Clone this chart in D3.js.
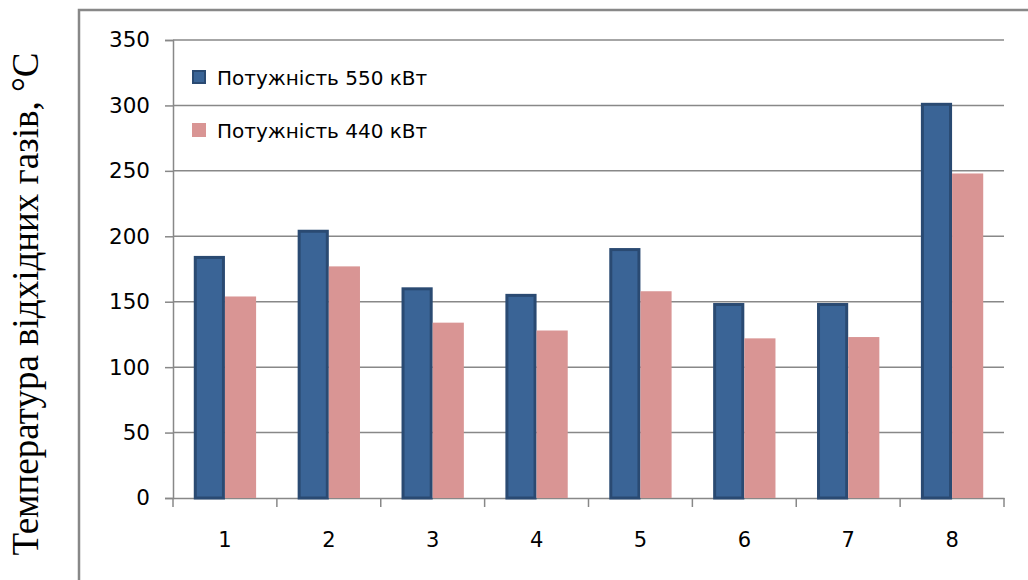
<!DOCTYPE html>
<html>
<head>
<meta charset="utf-8">
<title>Температура відхідних газів</title>
<script src="https://cdn.jsdelivr.net/npm/d3@7/dist/d3.min.js"></script>
<style>
  body { margin: 0; background: #fff; }
  svg text { font-family: "DejaVu Sans", sans-serif; }
</style>
</head>
<body>
<svg id="chart" width="1028" height="580"></svg>
<script>
// categories and series
const categories = ['1', '2', '3', '4', '5', '6', '7', '8'];
const power550 = [185, 205, 161, 156, 191, 149, 149, 302];
const power440 = [154, 177, 134, 128, 158, 122, 123, 248];
const seriesNames = ['Потужність 550 кВт', 'Потужність 440 кВт'];
const yTicks = [0, 50, 100, 150, 200, 250, 300, 350];

const svg = d3.select('#chart');
const margin = { top: 40, right: 24, bottom: 82, left: 173 };
const width = 1028, height = 580;

// outer frame (right edge is cut off in the original)
svg.append('rect')
    .attr('x', 79).attr('y', 10)
    .attr('width', 980).attr('height', 600)
    .attr('fill', 'none').attr('stroke', '#888').attr('stroke-width', 2.5);

const x = d3.scaleBand()
    .domain(categories)
    .range([margin.left, width - margin.right])
    .paddingInner(0.4).paddingOuter(0.2);
const sub = d3.scaleBand().domain([0, 1]).range([0, x.bandwidth()]);
const y = d3.scaleLinear().domain([0, 350]).range([height - margin.bottom, margin.top]);

// grid + y axis
const yAxis = svg.append('g')
    .attr('transform', `translate(${margin.left},0)`)
    .call(d3.axisLeft(y).tickValues(yTicks).tickSize(8).tickPadding(15));
yAxis.select('.domain').attr('stroke', '#888').attr('stroke-width', 1.5);
yAxis.selectAll('.tick line').attr('stroke', '#888').attr('stroke-width', 1.5);
yAxis.selectAll('text').attr('font-size', 21.5).attr('fill', '#000');

svg.append('g').selectAll('line')
    .data(yTicks.filter(d => d > 0))
    .join('line')
    .attr('x1', margin.left).attr('x2', width - margin.right)
    .attr('y1', d => y(d)).attr('y2', d => y(d))
    .attr('stroke', '#888').attr('stroke-width', 1.5);

// x axis
const xAxis = svg.append('g')
    .attr('transform', `translate(0,${y(0)})`)
    .call(d3.axisBottom(x).tickSize(0).tickPadding(34));
xAxis.select('.domain').attr('stroke', '#888').attr('stroke-width', 1.5);
xAxis.selectAll('text').attr('font-size', 21).attr('fill', '#000');
const step = x.step();
svg.append('g').selectAll('line')
    .data(d3.range(categories.length + 1))
    .join('line')
    .attr('x1', i => margin.left + i * step).attr('x2', i => margin.left + i * step)
    .attr('y1', y(0)).attr('y2', y(0) + 9)
    .attr('stroke', '#888').attr('stroke-width', 1.5);

// bars
const bars = svg.append('g');
bars.selectAll('rect.s550')
    .data(power550)
    .join('rect')
    .attr('class', 's550')
    .attr('x', (d, i) => x(categories[i]) + sub(0) + 1.5)
    .attr('y', d => y(d) + 1.5)
    .attr('width', sub.bandwidth() - 3)
    .attr('height', d => y(0) - y(d) - 1.5)
    .attr('fill', '#3a6496')
    .attr('stroke', '#2a4a72').attr('stroke-width', 3);
bars.selectAll('rect.s440')
    .data(power440)
    .join('rect')
    .attr('class', 's440')
    .attr('x', (d, i) => x(categories[i]) + sub(1))
    .attr('y', d => y(d))
    .attr('width', sub.bandwidth())
    .attr('height', d => y(0) - y(d))
    .attr('fill', '#d99594');

// legend
const legendColors = ['#3a6496', '#d99594'];
const legend = svg.append('g').attr('transform', 'translate(192,70)');
seriesNames.forEach((name, i) => {
    const row = legend.append('g').attr('transform', `translate(0,${i * 53})`);
    row.append('rect')
        .attr('x', i === 0 ? 1 : 0).attr('y', i === 0 ? 1 : 0)
        .attr('width', i === 0 ? 12 : 14).attr('height', i === 0 ? 12 : 14)
        .attr('fill', legendColors[i])
        .attr('stroke', i === 0 ? '#2a4a72' : 'none').attr('stroke-width', 2);
    row.append('text')
        .attr('x', 25).attr('y', 15)
        .attr('font-size', 20)
        .attr('fill', '#000')
        .text(name);
});

// y axis title
svg.append('text')
    .attr('transform', 'translate(38,304) rotate(-90)')
    .attr('text-anchor', 'middle')
    .attr('font-size', 37)
    .attr('fill', '#000')
    .style('font-family', '"Liberation Serif", "DejaVu Serif", serif')
    .text('Температура відхідних газів, °С');
</script>
</body>
</html>
